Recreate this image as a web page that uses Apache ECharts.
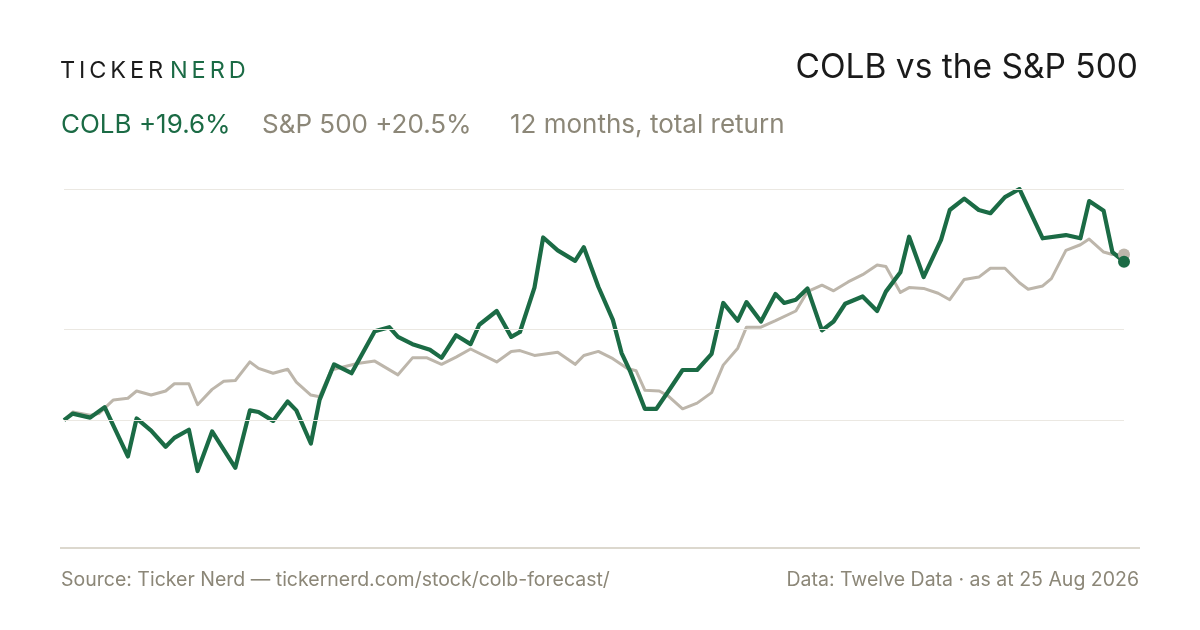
<!DOCTYPE html>
<html>
<head>
<meta charset="utf-8">
<title>COLB vs the S&P 500</title>
<script src="https://cdn.jsdelivr.net/npm/echarts@6/dist/echarts.min.js"></script>
<style>
    html, body { margin: 0; padding: 0; background: #ffffff; }
    #chart1 { width: 1200px; height: 630px; }
</style>
</head>
<body>
<div id="chart1"></div>
<script>
/* COLB vs S&P 500, 12 months total return (%) */
var colbDates = ['2025-08-25', '2025-08-28', '2025-09-03', '2025-09-08', '2025-09-16', '2025-09-19', '2025-09-24', '2025-09-29',
    '2025-10-02', '2025-10-07', '2025-10-10', '2025-10-15', '2025-10-23', '2025-10-28', '2025-10-31', '2025-11-05',
    '2025-11-10', '2025-11-13', '2025-11-18', '2025-11-21', '2025-11-26', '2025-12-02', '2025-12-10', '2025-12-15',
    '2025-12-18', '2025-12-23', '2025-12-29', '2026-01-02', '2026-01-07', '2026-01-12', '2026-01-15', '2026-01-21',
    '2026-01-26', '2026-01-29', '2026-02-03', '2026-02-06', '2026-02-11', '2026-02-17', '2026-02-20', '2026-02-25',
    '2026-03-02', '2026-03-05', '2026-03-08', '2026-03-13', '2026-03-17', '2026-03-21', '2026-03-26', '2026-03-31',
    '2026-04-05', '2026-04-09', '2026-04-14', '2026-04-17', '2026-04-22', '2026-04-27', '2026-04-30', '2026-05-04',
    '2026-05-08', '2026-05-13', '2026-05-17', '2026-05-21', '2026-05-27', '2026-06-01', '2026-06-04', '2026-06-09',
    '2026-06-12', '2026-06-17', '2026-06-23', '2026-06-26', '2026-07-01', '2026-07-06', '2026-07-10', '2026-07-15',
    '2026-07-20', '2026-07-28', '2026-08-05', '2026-08-10', '2026-08-13', '2026-08-18', '2026-08-21', '2026-08-25'];
var colbValues = [0, 0.8, 0.3, 1.6, -4.5, 0.2, -1.3, -3.3,
    -2.2, -1.2, -6.3, -1.4, -5.9, 1.2, 1.0, -0.1,
    2.3, 1.2, -2.9, 2.5, 6.9, 5.8, 11.0, 11.5,
    10.3, 9.4, 8.7, 7.7, 10.5, 9.4, 11.8, 13.5,
    10.3, 10.9, 16.4, 22.6, 21.0, 19.7, 21.4, 16.5,
    12.4, 8.3, 6.0, 1.4, 1.4, 3.5, 6.2, 6.2,
    8.2, 14.5, 12.3, 14.6, 12.2, 15.6, 14.5, 14.9,
    16.3, 11.1, 12.2, 14.4, 15.3, 13.5, 15.9, 18.3,
    22.7, 17.7, 22.3, 26.0, 27.4, 26.0, 25.6, 27.6,
    28.6, 22.5, 22.9, 22.5, 27.1, 25.9, 20.8, 19.6];

var spxDates = ['2025-08-25', '2025-08-28', '2025-09-03', '2025-09-06', '2025-09-11', '2025-09-16', '2025-09-19', '2025-09-24',
    '2025-09-29', '2025-10-02', '2025-10-07', '2025-10-10', '2025-10-15', '2025-10-19', '2025-10-23', '2025-10-28',
    '2025-10-31', '2025-11-05', '2025-11-10', '2025-11-13', '2025-11-18', '2025-11-21', '2025-11-25', '2025-12-04',
    '2025-12-10', '2025-12-18', '2025-12-23', '2025-12-28', '2026-01-02', '2026-01-07', '2026-01-12', '2026-01-21',
    '2026-01-26', '2026-01-29', '2026-02-03', '2026-02-11', '2026-02-17', '2026-02-20', '2026-02-25', '2026-03-02',
    '2026-03-07', '2026-03-10', '2026-03-13', '2026-03-18', '2026-03-21', '2026-03-26', '2026-03-31', '2026-04-05',
    '2026-04-09', '2026-04-14', '2026-04-17', '2026-04-22', '2026-04-27', '2026-05-04', '2026-05-08', '2026-05-13',
    '2026-05-17', '2026-05-22', '2026-05-27', '2026-06-01', '2026-06-04', '2026-06-09', '2026-06-12', '2026-06-17',
    '2026-06-22', '2026-06-26', '2026-07-01', '2026-07-06', '2026-07-10', '2026-07-15', '2026-07-20', '2026-07-23',
    '2026-07-28', '2026-07-31', '2026-08-05', '2026-08-10', '2026-08-13', '2026-08-18', '2026-08-21', '2026-08-25'];
var spxValues = [0, 1.0, 0.6, 0.8, 2.5, 2.7, 3.6, 3.1,
    3.6, 4.5, 4.5, 1.9, 3.8, 4.8, 4.9, 7.2,
    6.4, 5.8, 6.3, 4.7, 3.1, 2.9, 6.2, 7.0,
    7.3, 5.6, 7.7, 7.7, 6.9, 7.8, 8.8, 7.2,
    8.5, 8.6, 8.0, 8.4, 6.9, 8.0, 8.5, 7.6,
    6.4, 6.1, 3.7, 3.6, 3.0, 1.4, 2.1, 3.4,
    6.8, 8.9, 11.5, 11.5, 12.3, 13.5, 15.9, 16.7,
    16.0, 17.1, 18.0, 19.2, 19.0, 15.8, 16.4, 16.3,
    15.7, 14.9, 17.4, 17.7, 18.8, 18.8, 17.0, 16.2,
    16.6, 17.5, 21.0, 21.7, 22.4, 20.8, 20.5, 20.5];

// horizontal guide lines (return %)
var guideLevels = [0, 11.3, 28.6];

var GREEN = '#1b6b45';
var SAND = '#bdb6ab';
var MUTED = '#8c8778';
var SP = '\u2006'; // tracking for the wordmark

var pairUp = function (dates, values) {
    var out = [];
    for (var i = 0; i < dates.length; i++) {
        out.push([dates[i], values[i]]);
    }
    return out;
};

var getOption = function () {
    var colbData = pairUp(colbDates, colbValues);
    var spxData = pairUp(spxDates, spxValues);

    return {
        animation: false,
        backgroundColor: '#ffffff',
        textStyle: { fontFamily: 'Inter, "Noto Sans", sans-serif' },
        grid: { left: 64, right: 76, top: 189, bottom: 82 },
        xAxis: {
            type: 'time',
            min: colbDates[0],
            max: colbDates[colbDates.length - 1],
            axisLine: { show: false },
            axisTick: { show: false },
            axisLabel: { show: false },
            splitLine: { show: false }
        },
        yAxis: {
            type: 'value',
            min: -15.83,
            max: 28.6,
            axisLine: { show: false },
            axisTick: { show: false },
            axisLabel: { show: false },
            splitLine: { show: false }
        },
        graphic: [
            { type: 'text', left: 60, top: 59, style: { text: 'TICKER'.split('').join(SP), fill: '#1c1c1c', font: '400 23.5px Inter, sans-serif' } },
            { type: 'text', left: 170, top: 59, style: { text: 'NERD'.split('').join(SP), fill: GREEN, font: '400 23.5px Inter, sans-serif' } },
            { type: 'text', right: 62, top: 51, style: { text: 'COLB vs the S&P 500', fill: '#1a1a1a', font: '400 33.5px Inter, sans-serif' } },
            { type: 'text', left: 61, top: 112, style: { text: 'COLB +19.6%', fill: GREEN, font: '400 26px Inter, sans-serif' } },
            { type: 'text', left: 262, top: 112, style: { text: 'S&P 500 +20.5%', fill: MUTED, font: '400 26px Inter, sans-serif' } },
            { type: 'text', left: 510, top: 112, style: { text: '12 months, total return', fill: MUTED, font: '400 26px Inter, sans-serif' } },
            { type: 'line', shape: { x1: 60, y1: 548, x2: 1140, y2: 548 }, style: { stroke: '#dcd8ce', lineWidth: 2 } },
            { type: 'text', left: 61, top: 570, style: { text: 'Source: Ticker Nerd \u2014 tickernerd.com/stock/colb-forecast/', fill: MUTED, font: '400 19.5px Inter, sans-serif' } },
            { type: 'text', right: 61, top: 570, style: { text: 'Data: Twelve Data \u00b7 as at 25 Aug 2026', fill: MUTED, font: '400 19.5px Inter, sans-serif' } }
        ],
        series: [
            {
                name: 'S&P 500',
                type: 'line',
                data: spxData,
                showSymbol: false,
                z: 2,
                lineStyle: { color: SAND, width: 3, join: 'round' },
                markLine: {
                    silent: true,
                    symbol: 'none',
                    label: { show: false },
                    lineStyle: { color: '#ebe8e2', width: 1, type: 'solid' },
                    data: guideLevels.map(function (v) { return { yAxis: v }; })
                }
            },
            {
                name: 'COLB',
                type: 'line',
                data: colbData,
                showSymbol: false,
                z: 3,
                lineStyle: { color: GREEN, width: 4.2, join: 'round' }
            },
            {
                // end-of-period dots
                type: 'scatter',
                z: 4,
                symbolSize: 12,
                itemStyle: { opacity: 1 },
                data: [
                    { value: spxData[spxData.length - 1], itemStyle: { color: SAND, opacity: 1 } },
                    { value: colbData[colbData.length - 1], itemStyle: { color: GREEN, opacity: 1 } }
                ]
            }
        ]
    };
};

var myChart = echarts.init(document.getElementById('chart1'));
myChart.setOption(getOption());
</script>
</body>
</html>
